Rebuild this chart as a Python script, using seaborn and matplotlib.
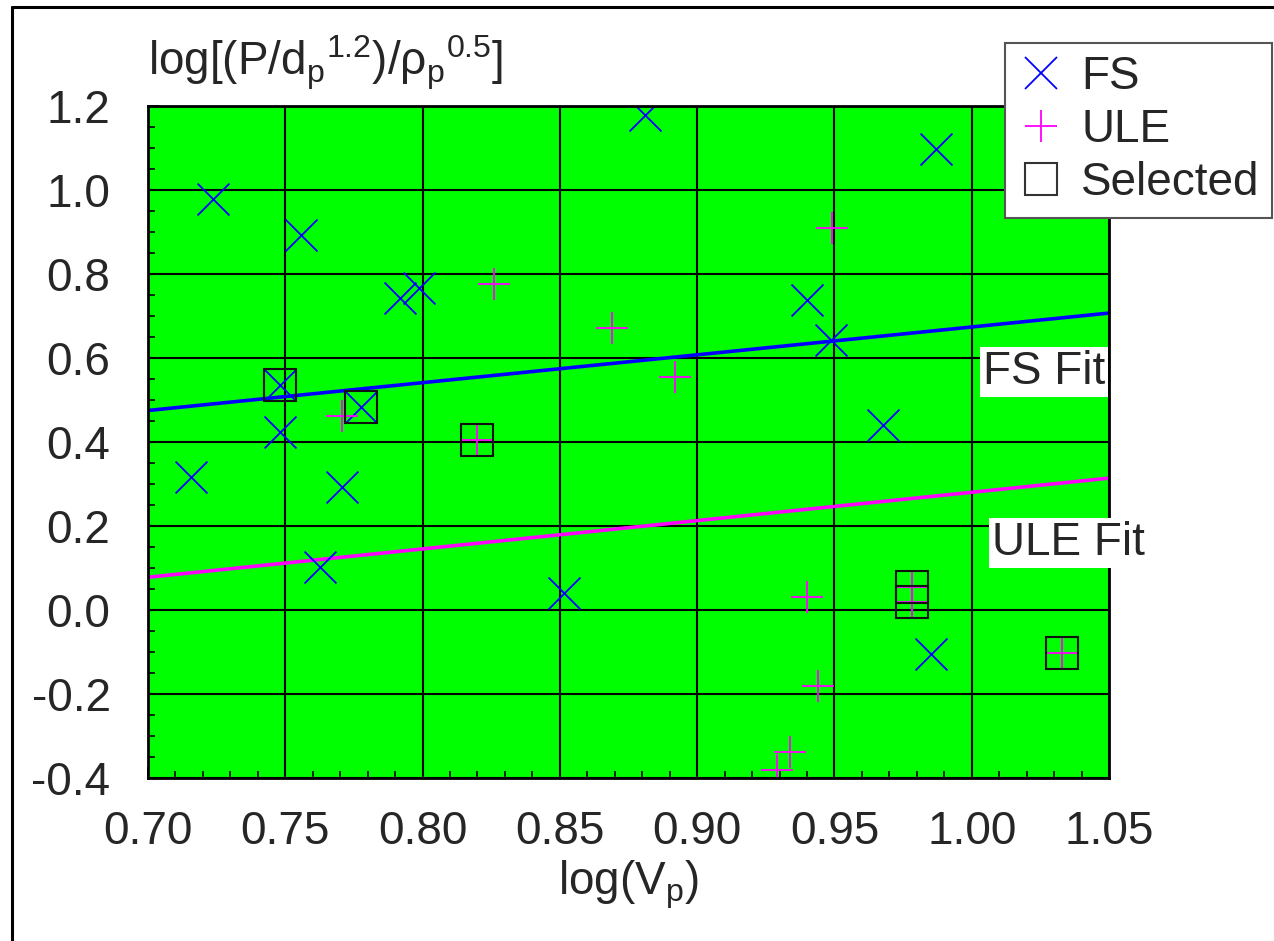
import matplotlib
matplotlib.use("Agg")
import matplotlib.pyplot as plt
from matplotlib.lines import Line2D
import seaborn as sns
import pandas as pd

# ---- data ----
fs_x = [0.7155, 0.7236, 0.7479, 0.7480, 0.7557, 0.7626, 0.7707, 0.7777, 0.7918,
        0.7988, 0.8515, 0.8809, 0.9400, 0.9488, 0.9678, 0.9850, 0.9870]
fs_y = [0.316, 0.978, 0.536, 0.424, 0.893, 0.103, 0.294, 0.484, 0.744,
        0.767, 0.040, 1.179, 0.737, 0.642, 0.440, -0.105, 1.097]

ule_x = [0.7708, 0.8199, 0.8261, 0.8689, 0.8920, 0.9290, 0.9340, 0.9400, 0.9440,
         0.9490, 0.9781, 0.9781, 1.0330]
ule_y = [0.462, 0.405, 0.776, 0.671, 0.554, -0.382, -0.338, 0.030, -0.181,
         0.910, 0.0555, 0.0198, -0.103]

sel_x = [0.7479, 0.7777, 0.8199, 0.9781, 0.9781, 1.0330]
sel_y = [0.536, 0.484, 0.405, 0.0555, 0.0198, -0.103]

fit_x = [0.70, 1.05]
fs_fit_y = [0.475, 0.707]
ule_fit_y = [0.078, 0.314]

x_ticks = [0.70, 0.75, 0.80, 0.85, 0.90, 0.95, 1.00, 1.05]
x_tick_labels = ["0.70", "0.75", "0.80", "0.85", "0.90", "0.95", "1.00", "1.05"]
y_ticks = [-0.4, -0.2, 0.0, 0.2, 0.4, 0.6, 0.8, 1.0, 1.2]
y_tick_labels = ["-0.4", "-0.2", "0.0", "0.2", "0.4", "0.6", "0.8", "1.0", "1.2"]

# ---- style ----
sns.set_style("white")
plt.rcParams['font.family'] = ['Liberation Sans', 'DejaVu Sans']
plt.rcParams['mathtext.fontset'] = 'custom'
plt.rcParams['mathtext.rm'] = 'Liberation Sans'
plt.rcParams['mathtext.it'] = 'Liberation Sans:italic'
plt.rcParams['mathtext.bf'] = 'Liberation Sans:bold'
plt.rcParams['axes.unicode_minus'] = False

FS_SIZE = 33

W, H = 1274, 941
fig = plt.figure(figsize=(W / 100, H / 100), dpi=100)
fig.patch.set_facecolor("white")
ax = fig.add_axes([148 / W, 1 - 778 / H, (1109 - 148) / W, (778 - 106) / H])
ax.set_facecolor("#00ff00")

FS_BLUE = "#0000ff"
ULE_MAG = "#ff00ff"
MS = 23

df_fs = pd.DataFrame({"x": fs_x, "y": fs_y})
df_ule = pd.DataFrame({"x": ule_x, "y": ule_y})
df_sel = pd.DataFrame({"x": sel_x, "y": sel_y})
df_fsfit = pd.DataFrame({"x": fit_x, "y": fs_fit_y})
df_ulefit = pd.DataFrame({"x": fit_x, "y": ule_fit_y})

sns.lineplot(data=df_fsfit, x="x", y="y", ax=ax, color=FS_BLUE, lw=2.6, zorder=3)
sns.lineplot(data=df_ulefit, x="x", y="y", ax=ax, color=ULE_MAG, lw=2.6, zorder=3)

sns.scatterplot(data=df_fs, x="x", y="y", ax=ax, marker="x", s=MS ** 2,
                color=FS_BLUE, linewidth=1.3, zorder=4)
sns.scatterplot(data=df_ule, x="x", y="y", ax=ax, marker="+", s=MS ** 2,
                color=ULE_MAG, linewidth=1.3, zorder=4)
ax.plot(df_sel["x"], df_sel["y"], linestyle="none", marker="s", markersize=MS,
        markerfacecolor="none", markeredgecolor="#111111", markeredgewidth=1.5,
        zorder=5)

ax.set_xlim(0.70, 1.05)
ax.set_ylim(-0.4, 1.2)
ax.set_xticks(x_ticks)
ax.set_xticklabels(x_tick_labels)
ax.set_yticks(y_ticks)
ax.set_yticklabels(y_tick_labels)
ax.set_xticks([0.70 + 0.01 * i for i in range(36)], minor=True)
ax.set_yticks([-0.4 + 0.05 * i for i in range(33)], minor=True)
ax.grid(True, which="major", color="black", lw=1.5)
ax.set_axisbelow(True)
ax.tick_params(axis="both", which="both", direction="in", left=True, bottom=True,
               top=False, right=False, color="black")
ax.tick_params(axis="both", which="major", length=8, width=1.4, labelsize=FS_SIZE)
ax.tick_params(axis="y", which="major", pad=27)
ax.tick_params(axis="x", which="major", pad=23)
ax.tick_params(axis="both", which="minor", length=5, width=1.2)
for sp in ax.spines.values():
    sp.set_color("black")
    sp.set_linewidth(2.0)
    sp.set_zorder(6)

ax.set_xlabel(r"log(V$_\mathrm{p}$)", fontsize=FS_SIZE, labelpad=3)
ax.set_ylabel("")
fig.text(148 / W, 1 - 75 / H,
         r"log[(P/d$_\mathrm{p}$$^\mathrm{1.2}$)/ρ$_\mathrm{p}$$^\mathrm{0.5}$]",
         fontsize=FS_SIZE, ha="left", va="baseline")

# fit labels
ax.text(1.0041, 0.538, "FS Fit", fontsize=FS_SIZE, ha="left", va="baseline",
        bbox=dict(facecolor="white", edgecolor="none", pad=2), zorder=10,
        clip_on=False)
ax.text(1.0074, 0.131, "ULE Fit", fontsize=FS_SIZE, ha="left", va="baseline",
        bbox=dict(facecolor="white", edgecolor="none", pad=2), zorder=10,
        clip_on=False)

# legend
handles = [
    Line2D([], [], linestyle="none", marker="x", markersize=MS, color=FS_BLUE,
           markeredgewidth=1.3),
    Line2D([], [], linestyle="none", marker="+", markersize=MS, color=ULE_MAG,
           markeredgewidth=1.3),
    Line2D([], [], linestyle="none", marker="s", markersize=MS,
           markerfacecolor="none", markeredgecolor="#333333", markeredgewidth=1.5),
]
leg = ax.legend(handles, ["FS", "ULE", "Selected"], loc="upper left",
                bbox_to_anchor=(1004.7 / W, 1 - 42.7 / H),
                bbox_transform=fig.transFigure, borderaxespad=0,
                fontsize=FS_SIZE, frameon=True, fancybox=False, framealpha=1,
                edgecolor="#555555", borderpad=0.27, labelspacing=0.2,
                handlelength=1.05, handletextpad=0.35)
leg.get_frame().set_linewidth(1.5)
leg.set_zorder(20)

# figure frame (left and top edges visible)
fig.add_artist(Line2D([12 / W, 12 / W], [0, 1 - 7.3 / H], color="black", lw=2.2,
                      transform=fig.transFigure))
fig.add_artist(Line2D([12 / W, 1], [1 - 7.3 / H, 1 - 7.3 / H], color="black",
                      lw=2.2, transform=fig.transFigure))

fig.savefig("out.png", dpi=100, facecolor="white")
